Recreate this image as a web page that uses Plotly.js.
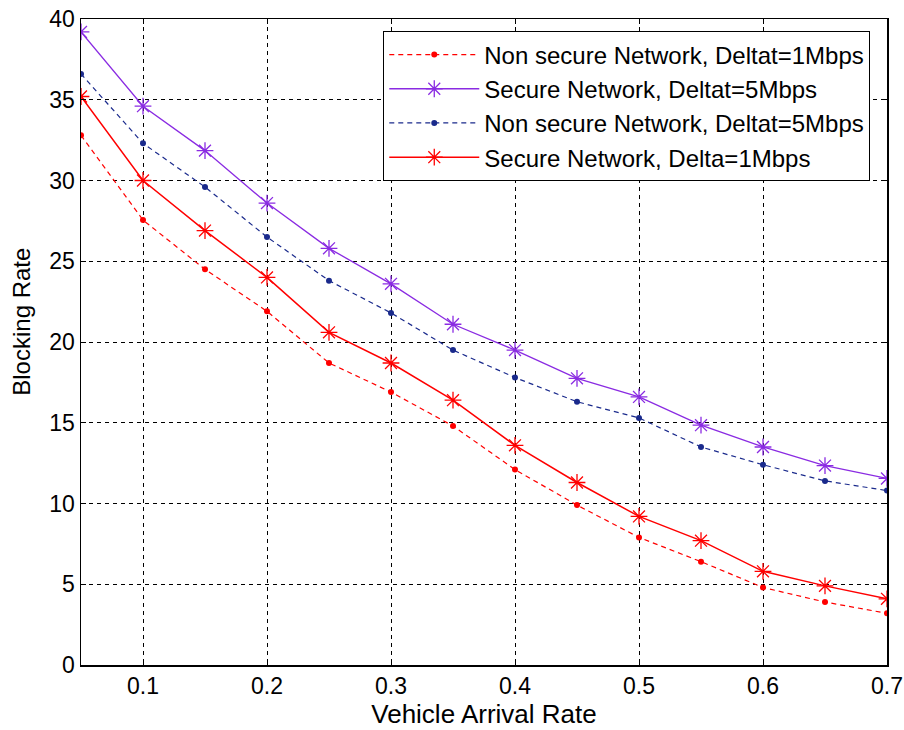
<!DOCTYPE html>
<html>
<head>
<meta charset="utf-8">
<script src="https://cdn.plot.ly/plotly-3.0.1.min.js"></script>
<style>html,body{margin:0;padding:0;background:#fff;}#chart{width:904px;height:730px;}</style>
</head>
<body>
<div id="chart"></div>
<script>
const arrivalRate = [0.05,0.1,0.15,0.2,0.25,0.3,0.35,0.4,0.45,0.5,0.55,0.6,0.65,0.7];
const nonSecure1 = [32.8,27.55,24.5,21.9,18.7,16.9,14.8,12.1,9.9,7.9,6.4,4.8,3.9,3.2];
const secure5 = [39.2,34.6,31.85,28.6,25.8,23.6,21.1,19.5,17.75,16.6,14.85,13.5,12.35,11.55];
const nonSecure5 = [36.6,32.3,29.6,26.5,23.8,21.8,19.5,17.8,16.3,15.3,13.5,12.4,11.4,10.8];
const secure1 = [35.2,30.0,26.9,24.0,20.6,18.7,16.4,13.6,11.3,9.2,7.7,5.8,4.9,4.1];
const names = ['Non secure Network, Deltat=1Mbps','Secure Network, Deltat=5Mbps','Non secure Network, Deltat=5Mbps','Secure Network, Delta=1Mbps'];
const xTicks = [0.1,0.2,0.3,0.4,0.5,0.6,0.7];
const yTicks = [0,5,10,15,20,25,30,35,40];

const RED='#ff0000', PURPLE='#8a2be2', NAVY='#1a2a8c';
const traces = [
  {x:arrivalRate,y:nonSecure1,name:names[0],mode:'lines+markers',line:{color:RED,width:1.2,dash:'5px,4px'},marker:{symbol:'circle',size:6,color:RED}},
  {x:arrivalRate,y:secure5,name:names[1],mode:'lines+markers',line:{color:PURPLE,width:1.3},marker:{symbol:'asterisk-open',size:14,color:PURPLE,line:{color:PURPLE,width:1.3}}},
  {x:arrivalRate,y:nonSecure5,name:names[2],mode:'lines+markers',line:{color:NAVY,width:1.2,dash:'5px,4px'},marker:{symbol:'circle',size:6,color:NAVY}},
  {x:arrivalRate,y:secure1,name:names[3],mode:'lines+markers',line:{color:RED,width:1.5},marker:{symbol:'asterisk-open',size:14,color:RED,line:{color:RED,width:1.3}}}
];
const font = {family:'Liberation Sans, Arial, sans-serif',size:22,color:'#000'};
const layout = {
  width:904,height:730,
  margin:{l:81,r:17,t:19,b:65},
  paper_bgcolor:'#fff',plot_bgcolor:'#fff',
  font:font,
  showlegend:true,
  xaxis:{range:[0.05,0.7],tickvals:xTicks,ticktext:xTicks.map(v=>v.toFixed(1)),tickfont:{size:23},
    showline:true,linecolor:'#000',linewidth:1.5,mirror:'ticks',ticks:'inside',ticklen:5,tickcolor:'#000',
    showgrid:true,gridcolor:'#000',gridwidth:1,griddash:'4px,4px',zeroline:false,
    title:{text:'Vehicle Arrival Rate',font:{size:26},standoff:5}},
  yaxis:{range:[0,40],tickvals:yTicks,tickfont:{size:23},
    showline:true,linecolor:'#000',linewidth:1.5,mirror:'ticks',ticks:'inside',ticklen:5,tickcolor:'#000',
    showgrid:true,gridcolor:'#000',gridwidth:1,griddash:'4px,4px',zeroline:false},
  annotations:[{text:'Blocking Rate',xref:'paper',yref:'paper',x:-0.0735,y:0.531,xanchor:'center',yanchor:'middle',
    textangle:-90,showarrow:false,font:{size:24}}],
  legend:{x:0.979,y:0.981,xanchor:'right',yanchor:'top',bgcolor:'#fff',bordercolor:'#000',borderwidth:1.2,
    font:{size:24},tracegroupgap:0,itemwidth:90}
};
Plotly.newPlot('chart',traces,layout,{displayModeBar:false,staticPlot:true});
</script>
</body>
</html>
